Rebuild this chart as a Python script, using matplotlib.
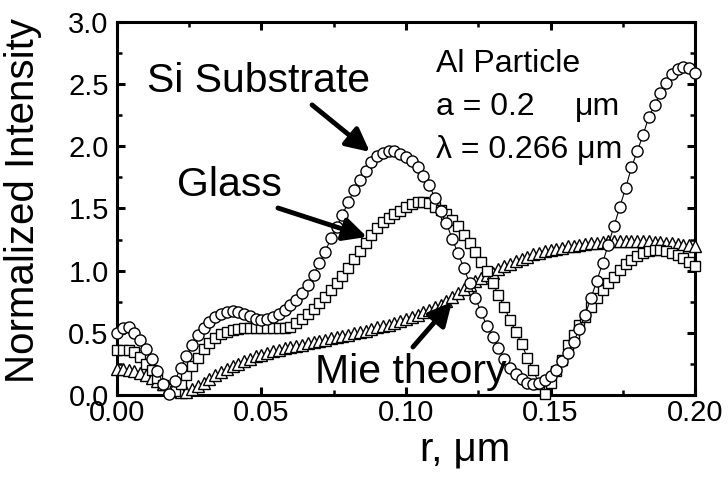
import matplotlib
matplotlib.use('Agg')
import matplotlib.pyplot as plt
from matplotlib.ticker import MultipleLocator
import numpy as np

plt.rcParams['font.family'] = ['Liberation Sans', 'DejaVu Sans']

# radial position, um (step 0.002)
r = np.linspace(0.0, 0.2, 101)

si_substrate = [
    0.50, 0.54, 0.55, 0.50, 0.44,
    0.37, 0.29, 0.19, 0.09, 0.01,
    0.11, 0.22, 0.31, 0.40, 0.48,
    0.54, 0.59, 0.63, 0.655, 0.67,
    0.675, 0.67, 0.655, 0.635, 0.615,
    0.605, 0.61, 0.625, 0.65, 0.685,
    0.72, 0.76, 0.82, 0.885, 0.965,
    1.06, 1.15, 1.26, 1.35, 1.45,
    1.55, 1.645, 1.73, 1.80, 1.87,
    1.925, 1.95, 1.965, 1.965, 1.94,
    1.915, 1.885, 1.83, 1.765, 1.69,
    1.585, 1.48, 1.38, 1.255, 1.14,
    1.02, 0.90, 0.78, 0.665, 0.555,
    0.465, 0.38, 0.29, 0.22, 0.165,
    0.125, 0.10, 0.09, 0.095, 0.12,
    0.15, 0.20, 0.27, 0.34, 0.43,
    0.53, 0.645, 0.78, 0.915, 1.06,
    1.21, 1.36, 1.515, 1.665, 1.83,
    1.96, 2.09, 2.235, 2.33, 2.425,
    2.51, 2.58, 2.62, 2.64, 2.63,
    2.59,
]

glass = [
    0.36, 0.36, 0.36, 0.345, 0.305,
    0.25, 0.20, 0.14, 0.08, 0.05,
    0.03, 0.09, 0.16, 0.235, 0.30,
    0.37, 0.42, 0.46, 0.49, 0.51,
    0.52, 0.53, 0.535, 0.535, 0.535,
    0.535, 0.535, 0.535, 0.535, 0.54,
    0.55, 0.575, 0.615, 0.655, 0.695,
    0.74, 0.79, 0.845, 0.90, 0.96,
    1.025, 1.09, 1.155, 1.225, 1.29,
    1.345, 1.39, 1.425, 1.455, 1.48,
    1.51, 1.535, 1.55, 1.555, 1.545,
    1.515, 1.49, 1.455, 1.41, 1.36,
    1.29, 1.22, 1.15, 1.07, 1.00,
    0.90, 0.805, 0.71, 0.60, 0.51,
    0.41, 0.30, 0.20, 0.09, 0.01,
    0.10, 0.19, 0.28, 0.40, 0.48,
    0.56, 0.63, 0.71, 0.78, 0.845,
    0.90, 0.95, 1.005, 1.05, 1.085,
    1.12, 1.145, 1.16, 1.17, 1.17,
    1.16, 1.145, 1.125, 1.10, 1.07,
    1.04,
]

mie = [
    0.21, 0.205, 0.20, 0.19, 0.18,
    0.16, 0.14, 0.11, 0.085, 0.06,
    0.035, 0.02, 0.02, 0.045, 0.075,
    0.10, 0.13, 0.16, 0.185, 0.21,
    0.23, 0.25, 0.27, 0.29, 0.31,
    0.325, 0.34, 0.35, 0.36, 0.375,
    0.385, 0.395, 0.405, 0.415, 0.425,
    0.435, 0.445, 0.455, 0.465, 0.475,
    0.485, 0.495, 0.505, 0.515, 0.53,
    0.545, 0.555, 0.565, 0.58, 0.595,
    0.61, 0.625, 0.645, 0.665, 0.685,
    0.705, 0.725, 0.755, 0.79, 0.82,
    0.855, 0.885, 0.915, 0.94, 0.965,
    0.985, 1.01, 1.035, 1.055, 1.075,
    1.095, 1.11, 1.13, 1.145, 1.155,
    1.165, 1.175, 1.185, 1.195, 1.20,
    1.21, 1.215, 1.22, 1.225, 1.23,
    1.235, 1.235, 1.24, 1.24, 1.24,
    1.24, 1.235, 1.235, 1.23, 1.23,
    1.225, 1.22, 1.215, 1.21, 1.205,
    1.20,
]

fig = plt.figure(figsize=(7.28, 4.79), dpi=100)
ax = fig.add_axes([0.1607, 0.1754, 0.794, 0.7787])

# triangles at the back, circles on top
ax.plot(r, mie, color='black', lw=0.8, marker='^', ms=8.5, mfc='white',
        mec='black', mew=1.0, clip_on=False, zorder=3)
ax.plot(r, glass, color='black', lw=0.8, marker='s', ms=6.8, mfc='white',
        mec='black', mew=1.0, clip_on=False, zorder=4)
ax.plot(r, si_substrate, color='black', lw=0.8, marker='o', ms=8, mfc='white',
        mec='black', mew=1.0, clip_on=False, zorder=5)

ax.set_xlim(0, 0.2)
ax.set_ylim(0, 3.0)
ax.xaxis.set_major_locator(MultipleLocator(0.05))
ax.xaxis.set_minor_locator(MultipleLocator(0.025))
ax.yaxis.set_major_locator(MultipleLocator(0.5))
ax.yaxis.set_minor_locator(MultipleLocator(0.25))
ax.xaxis.set_major_formatter(plt.FormatStrFormatter('%.2f'))
ax.yaxis.set_major_formatter(plt.FormatStrFormatter('%.1f'))

for s in ax.spines.values():
    s.set_linewidth(2.2)
ax.tick_params(which='major', direction='in', top=True, right=True,
               length=6, width=2.2, labelsize=21)
ax.tick_params(which='minor', direction='in', top=True, right=True,
               length=3.5, width=1.8)
ax.tick_params(axis='x', pad=3)
ax.tick_params(axis='y', pad=6)

ax.set_xlabel('r, μm', fontsize=29)
ax.xaxis.set_label_coords(0.602, -0.095)
ax.set_ylabel('Normalized Intensity', fontsize=29)
ax.yaxis.set_label_coords(-0.13, 0.52)

arrow = dict(arrowstyle='-|>,head_length=0.7,head_width=0.35', lw=3.5,
             color='black', mutation_scale=20, shrinkA=0, shrinkB=0)
ax.annotate('', xy=(0.0875, 1.955), xytext=(0.0675, 2.333), arrowprops=arrow, zorder=6)
ax.annotate('', xy=(0.0865, 1.271), xytext=(0.0557, 1.504), arrowprops=arrow, zorder=6)
ax.annotate('', xy=(0.1159, 0.748), xytext=(0.1024, 0.386), arrowprops=arrow, zorder=6)

ax.text(0.0104, 2.438, 'Si Substrate', fontsize=29.5, va='baseline')
ax.text(0.0208, 1.601, 'Glass', fontsize=29.5, va='baseline')
ax.text(0.0685, 0.097, 'Mie theory', fontsize=29.5, va='baseline', zorder=7)

ax.text(0.1104, 2.60, 'Al Particle', fontsize=23, va='baseline')
ax.text(0.1104, 2.253, 'a = 0.2', fontsize=23, va='baseline')
ax.text(0.1585, 2.253, 'μm', fontsize=23, va='baseline')
ax.text(0.1104, 1.907, 'λ = 0.266 μm', fontsize=23, va='baseline')

fig.savefig('out.png', dpi=100)
